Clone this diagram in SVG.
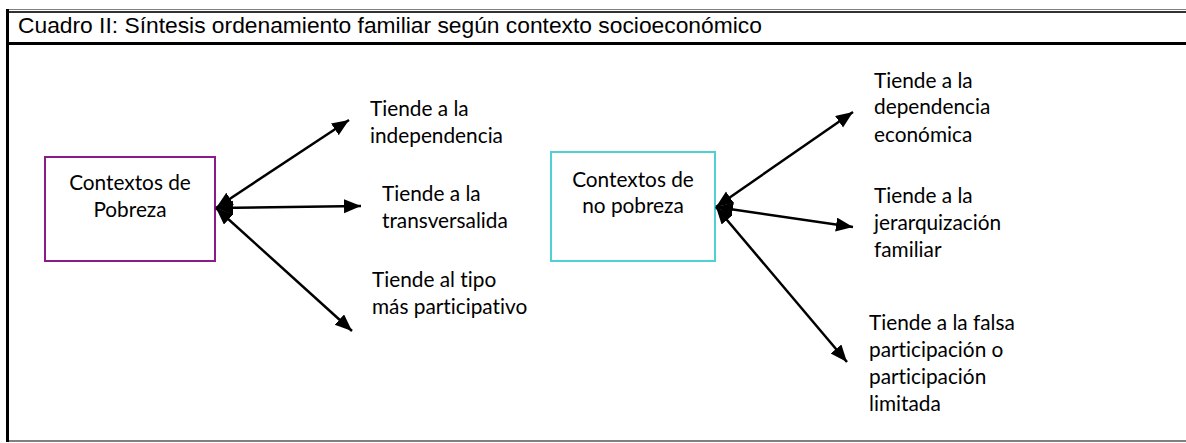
<svg xmlns="http://www.w3.org/2000/svg" width="1186" height="443" viewBox="0 0 1186 443">
<style>
.t{font-family:"Liberation Sans",Arial,sans-serif;font-size:22.8px;fill:#000}
.l{font-family:Lato,"Open Sans",sans-serif;font-size:20.8px;fill:#000;font-variant-ligatures:none}
.c{stroke:#000;stroke-width:2.5;fill:none;marker-start:url(#ah);marker-end:url(#ah)}
</style>
<defs>
<marker id="ah" markerUnits="userSpaceOnUse" markerWidth="19" markerHeight="15" refX="17" refY="7" orient="auto-start-reverse" viewBox="0 0 19 15">
<path d="M0,0 L17,7 L0,14 z" fill="#000"/>
</marker>
</defs>
<rect width="1186" height="443" fill="#fff"/>
<g id="frame">
<line x1="7" y1="9.5" x2="1186" y2="9.5" stroke="#808080" stroke-width="1.2"/>
<line x1="7" y1="12" x2="1186" y2="12" stroke="#333" stroke-width="1.8"/>
<line x1="7.5" y1="9" x2="7.5" y2="442" stroke="#000" stroke-width="3"/>
<line x1="7" y1="43.5" x2="1186" y2="43.5" stroke="#000" stroke-width="3"/>
<line x1="9" y1="441" x2="1186" y2="441" stroke="#808080" stroke-width="2"/>
<text class="t" x="18" y="33">Cuadro II: Síntesis ordenamiento familiar según contexto socioeconómico</text>
</g>
<g id="node-pobreza">
<rect x="45" y="157" width="170" height="104" fill="#fff" stroke="#8B1A8B" stroke-width="2"/>
<text class="l" x="130" y="190" text-anchor="middle">Contextos de</text>
<text class="l" x="130" y="217" text-anchor="middle">Pobreza</text>
</g>
<g id="node-nopobreza">
<rect x="551" y="152" width="164" height="109" fill="#fff" stroke="#4FD0D2" stroke-width="2"/>
<text class="l" x="633" y="187" text-anchor="middle">Contextos de</text>
<text class="l" x="633" y="213" text-anchor="middle">no pobreza</text>
</g>
<g id="label-independencia">
<text class="l" x="370" y="116">Tiende a la</text>
<text class="l" x="370" y="143">independencia</text>
</g>
<g id="label-transversalida">
<text class="l" x="382" y="201">Tiende a la</text>
<text class="l" x="382" y="228">transversalida</text>
</g>
<g id="label-participativo">
<text class="l" x="372" y="287">Tiende al tipo</text>
<text class="l" x="372" y="314">más participativo</text>
</g>
<g id="label-dependencia">
<text class="l" x="874" y="88">Tiende a la</text>
<text class="l" x="874" y="114">dependencia</text>
<text class="l" x="874" y="142">económica</text>
</g>
<g id="label-jerarquizacion">
<text class="l" x="874" y="203">Tiende a la</text>
<text class="l" x="874" y="230">jerarquización</text>
<text class="l" x="874" y="257">familiar</text>
</g>
<g id="label-falsa">
<text class="l" x="869" y="330">Tiende a la falsa</text>
<text class="l" x="869" y="357">participación o</text>
<text class="l" x="869" y="384">participación</text>
<text class="l" x="869" y="411">limitada</text>
</g>
<g id="connectors">
<line class="c" x1="216" y1="208" x2="349" y2="120"/>
<line class="c" x1="216" y1="208" x2="361" y2="206"/>
<line class="c" x1="216" y1="208" x2="352" y2="331"/>
<line class="c" x1="716" y1="207" x2="853" y2="112"/>
<line class="c" x1="716" y1="207" x2="853" y2="227"/>
<line class="c" x1="716" y1="207" x2="847" y2="362"/>
</g>
</svg>
